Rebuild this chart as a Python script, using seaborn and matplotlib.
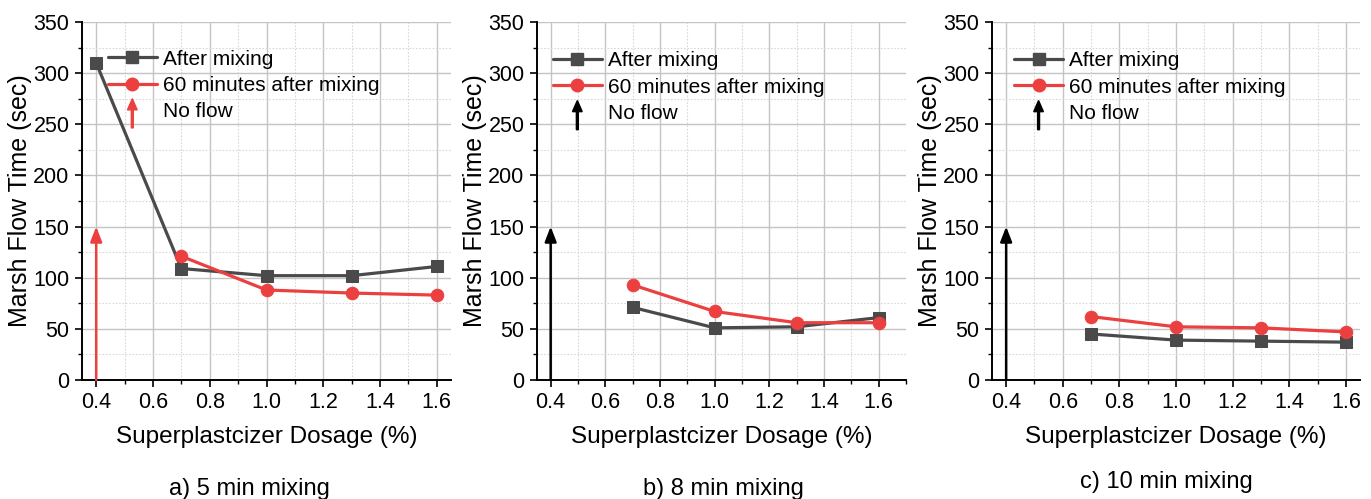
import numpy as np
import pandas as pd
import matplotlib
matplotlib.use("Agg")
import matplotlib.pyplot as plt
import seaborn as sns
from matplotlib.legend_handler import HandlerBase
from matplotlib.patches import FancyArrow
from matplotlib.lines import Line2D
from matplotlib.ticker import MultipleLocator

# ---------------- data ----------------
dosage_a_after = [0.4, 0.7, 1.0, 1.3, 1.6]
after_a = [310, 109, 102, 102, 111]
dosage_a_later = [0.7, 1.0, 1.3, 1.6]
later_a = [121, 88, 85, 83]

dosage_b = [0.7, 1.0, 1.3, 1.6]
after_b = [71, 51, 52, 61]
later_b = [93, 67, 56, 56]

dosage_c = [0.7, 1.0, 1.3, 1.6]
after_c = [45, 39, 38, 37]
later_c = [62, 52, 51, 47]

no_flow_x = 0.4
no_flow_y = 150

series_names = ["After mixing", "60 minutes after mixing", "No flow"]
panel_titles = ["a) 5 min mixing", "b) 8 min mixing", "c) 10 min mixing"]
x_label = "Superplastcizer Dosage (%)"
y_label = "Marsh Flow Time (sec)"

# ---------------- style ----------------
sns.set_style("ticks")
plt.rcParams["font.family"] = ["Liberation Sans", "DejaVu Sans"]
plt.rcParams["text.color"] = "black"
plt.rcParams["axes.labelcolor"] = "black"

GRAY = "#4a4a4a"
RED = "#ec4040"
BLACK = "#000000"

panels = [
    dict(after=(dosage_a_after, after_a), later=(dosage_a_later, later_a),
         arrow_color=RED, xlim=(0.35, 1.65), leg=(0.07, 0.923)),
    dict(after=(dosage_b, after_b), later=(dosage_b, later_b),
         arrow_color=BLACK, xlim=(0.35, 1.70), leg=(0.043, 0.918)),
    dict(after=(dosage_c, after_c), later=(dosage_c, later_c),
         arrow_color=BLACK, xlim=(0.35, 1.65), leg=(0.06, 0.918)),
]
lefts = [82 / 1371, 537 / 1371, 992 / 1371]
widths = [369 / 1371, 369 / 1371, 368 / 1371]
title_x = [249 / 1371, 723 / 1371, 1166 / 1371]
title_y = [1 - 489 / 499, 1 - 489 / 499, 1 - 482 / 499]
bottom = 1 - 380 / 499
height = 358 / 499


class ArrowHandle:
    def __init__(self, color):
        self.color = color


class HandlerArrow(HandlerBase):
    def create_artists(self, legend, orig_handle, xdescent, ydescent,
                       width, height, fontsize, trans):
        cx = width / 2 - xdescent
        cy = height / 2 - ydescent
        arr = FancyArrow(cx, cy - 13, 0, 21, width=1.4, head_width=7,
                         head_length=8, length_includes_head=True,
                         color=orig_handle.color, transform=trans)
        return [arr]


fig = plt.figure(figsize=(13.71, 4.99), dpi=100)

for i, p in enumerate(panels):
    ax = fig.add_axes([lefts[i], bottom, widths[i], height])
    ax.set_axisbelow(True)

    df_after = pd.DataFrame({"x": p["after"][0], "y": p["after"][1]})
    df_later = pd.DataFrame({"x": p["later"][0], "y": p["later"][1]})
    sns.lineplot(data=df_after, x="x", y="y", ax=ax, color=GRAY, marker="s",
                 markersize=8, markeredgecolor=GRAY, linewidth=2.3, zorder=3)
    sns.lineplot(data=df_later, x="x", y="y", ax=ax, color=RED, marker="o",
                 markersize=9, markeredgecolor=RED, linewidth=2.3, zorder=4)

    ax.annotate("", xy=(no_flow_x, no_flow_y), xytext=(no_flow_x, 0),
                arrowprops=dict(arrowstyle="-|>,head_length=0.9,head_width=0.35",
                                color=p["arrow_color"], lw=1.8,
                                shrinkA=0, shrinkB=0),
                zorder=5, annotation_clip=False)

    ax.set_xlim(*p["xlim"])
    ax.set_ylim(0, 350)
    ax.xaxis.set_minor_locator(MultipleLocator(0.1))
    ax.yaxis.set_major_locator(MultipleLocator(50))
    ax.yaxis.set_minor_locator(MultipleLocator(25))
    ticks = np.arange(0.4, 1.61, 0.2)
    ax.set_xticks(ticks)
    ax.set_xticklabels([f"{v:.1f}" for v in ticks])

    ax.grid(True, which="major", color="#c4c4c4", linewidth=1.0)
    ax.grid(True, which="minor", color="#d8d8d8", linewidth=0.8, linestyle=(0, (1.5, 1.5)))

    for side in ["top", "right"]:
        ax.spines[side].set_visible(False)
    for side in ["left", "bottom"]:
        ax.spines[side].set_linewidth(1.4)
        ax.spines[side].set_color("black")

    ax.tick_params(which="major", direction="out", length=5, width=1.2,
                   labelsize=15.5, colors="black", labelcolor="black", pad=4)
    ax.tick_params(which="minor", direction="out", length=3, width=1.0, colors="black")

    ax.set_xlabel(x_label, fontsize=17.5, labelpad=9, color="black")
    ax.set_ylabel(y_label, fontsize=18, labelpad=1, color="black")

    handles = [
        Line2D([], [], color=GRAY, marker="s", markersize=8, linewidth=2.3),
        Line2D([], [], color=RED, marker="o", markersize=9, linewidth=2.3),
        ArrowHandle(p["arrow_color"]),
    ]
    leg = ax.legend(handles=handles, labels=series_names, loc="upper left",
                    bbox_to_anchor=p["leg"], frameon=False, fontsize=15,
                    handlelength=2.35, handletextpad=0.3, labelspacing=0.35,
                    borderpad=0, borderaxespad=0,
                    handler_map={ArrowHandle: HandlerArrow()})
    for t in leg.get_texts():
        t.set_color("black")

    fig.text(title_x[i], title_y[i], panel_titles[i], ha="center", va="center",
             fontsize=17, color="black")

fig.savefig("out.png", dpi=100)
